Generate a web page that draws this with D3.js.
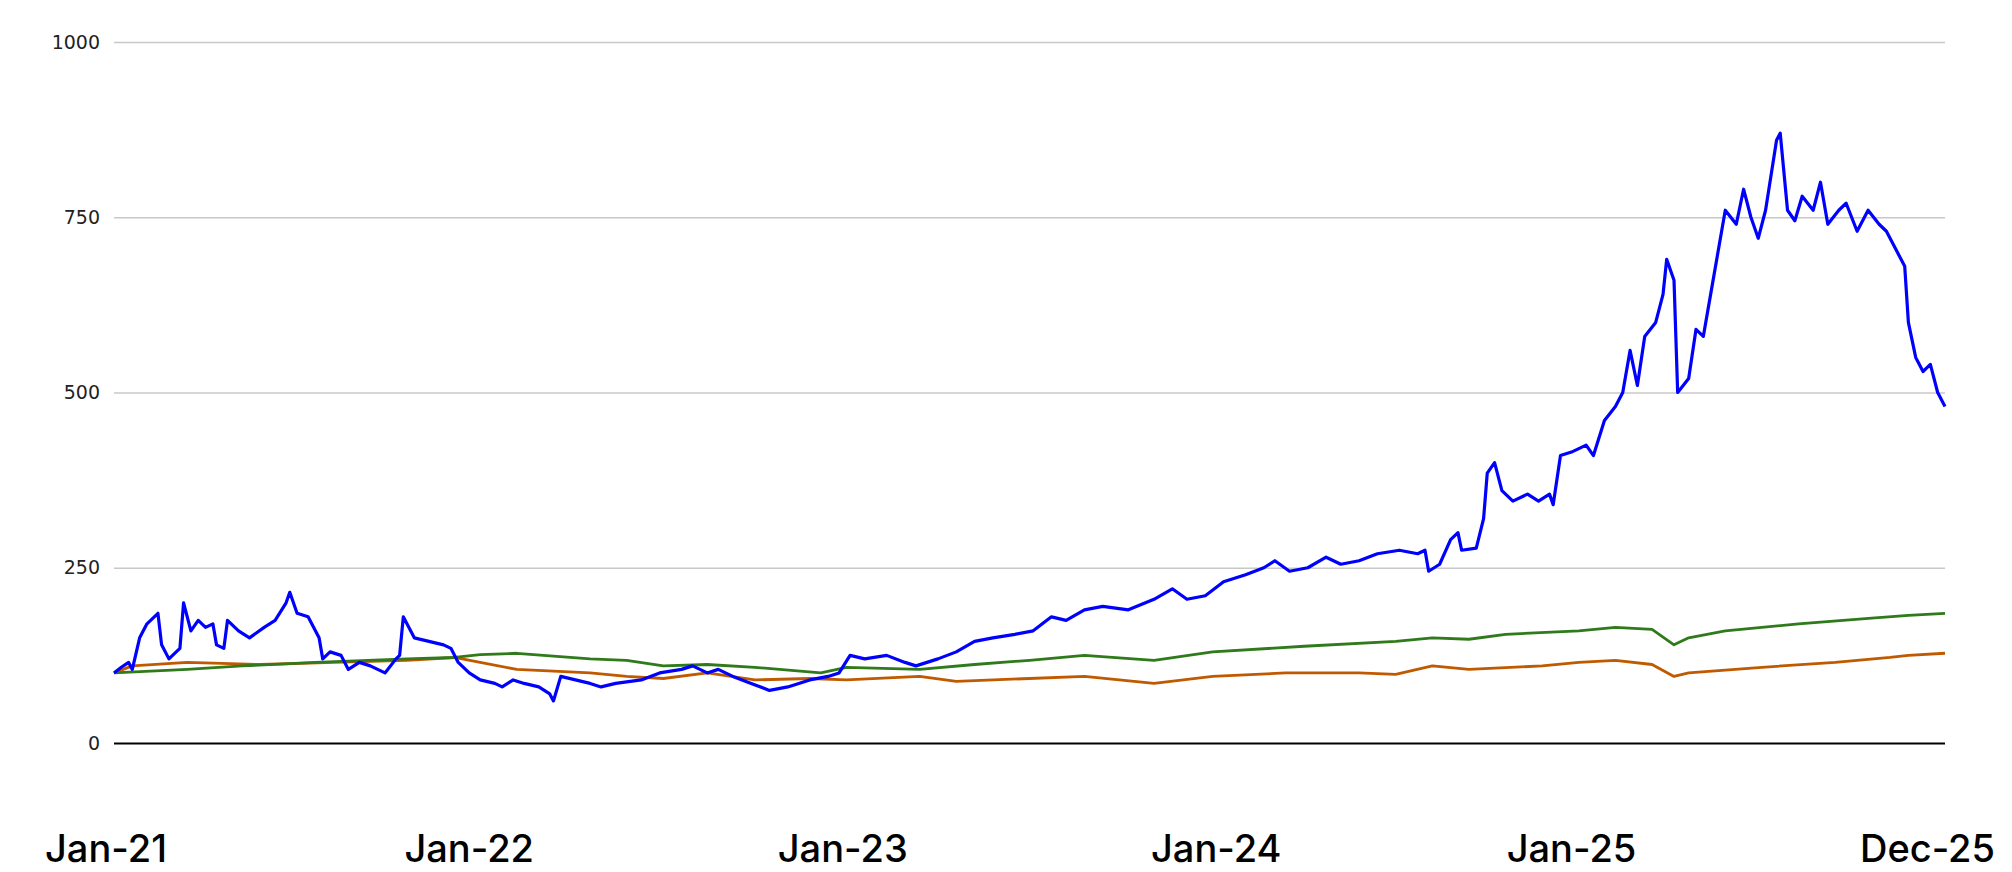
<!DOCTYPE html>
<html><head><meta charset="utf-8">
<script src="https://cdn.jsdelivr.net/npm/d3@7"></script>
<style>body{margin:0;background:#fff}</style></head>
<body><svg id="c" width="2012" height="872"></svg>
<script>
// time in years since Jan 2021
const blueT=[0,.02,.04,.05,.07,.09,.12,.13,.15,.18,.19,.21,.23,.25,.27,.28,.30,.31,.34,.37,.41,.44,.47,.48,.50,.53,.56,.57,.59,.62,.64,.67,.70,.74,.77,.78,.79,.82,.86,.90,.92,.94,.97,1.00,1.04,1.06,1.09,1.12,1.16,1.19,1.20,1.22,1.26,1.30,1.33,1.37,1.44,1.49,1.55,1.58,1.62,1.65,1.69,1.74,1.79,1.84,1.90,1.95,1.98,2.01,2.05,2.11,2.16,2.19,2.25,2.30,2.35,2.40,2.46,2.51,2.56,2.60,2.65,2.70,2.77,2.84,2.89,2.93,2.98,3.03,3.09,3.14,3.17,3.21,3.26,3.31,3.35,3.40,3.45,3.51,3.56,3.58,3.59,3.62,3.65,3.67,3.68,3.72,3.74,3.75,3.77,3.79,3.82,3.86,3.89,3.92,3.93,3.95,3.98,4.02,4.04,4.07,4.10,4.12,4.14,4.16,4.18,4.21,4.23,4.24,4.26,4.27,4.30,4.32,4.34,4.36,4.38,4.40,4.43,4.45,4.47,4.49,4.51,4.54,4.55,4.57,4.59,4.61,4.64,4.66,4.68,4.71,4.73,4.76,4.79,4.82,4.84,4.87,4.89,4.90,4.92,4.94,4.96,4.98,5.00];
const blueV=[100,108,115,105,150,170,185,140,120,135,200,160,175,165,170,140,135,175,160,150,165,175,200,215,185,180,150,120,130,125,105,115,110,100,120,125,180,150,145,140,135,115,100,90,85,80,90,85,80,70,60,95,90,85,80,85,90,100,105,110,100,105,95,85,75,80,90,95,100,125,120,125,115,110,120,130,145,150,155,160,180,175,190,195,190,205,220,205,210,230,240,250,260,245,250,265,255,260,270,275,270,275,245,255,290,300,275,278,320,385,400,360,345,355,345,355,340,410,415,425,410,460,480,500,560,510,580,600,640,690,660,500,520,590,580,640,700,760,740,790,750,720,760,860,870,760,745,780,760,800,740,760,770,730,760,740,730,700,680,600,550,530,540,500,480];
const greenT=[0,.2,.35,.55,.8,.93,1.0,1.1,1.3,1.4,1.5,1.62,1.75,1.93,2.0,2.2,2.35,2.5,2.65,2.84,3.0,3.25,3.5,3.6,3.7,3.8,4.0,4.1,4.2,4.26,4.3,4.4,4.6,4.8,4.9,5.0];
const greenV=[100,105,110,115,120,122,126,128,120,118,110,112,108,100,108,105,112,118,125,118,130,138,145,150,148,155,160,165,162,140,150,160,170,178,182,185];
const orangeT=[0,.05,.2,.4,.6,.8,.93,1.0,1.1,1.3,1.4,1.5,1.62,1.75,1.9,2.0,2.2,2.3,2.5,2.65,2.84,3.0,3.2,3.4,3.5,3.6,3.7,3.9,4.0,4.1,4.2,4.26,4.3,4.5,4.7,4.85,4.9,5.0];
const orangeV=[100,110,115,112,115,118,122,115,105,100,95,92,100,90,92,90,95,88,92,95,85,95,100,100,98,110,105,110,115,118,112,95,100,108,115,122,125,128];
const yTicks=[0,250,500,750,1000];
const xLabels=["Jan-21","Jan-22","Jan-23","Jan-24","Jan-25","Dec-25"];
const xLabelT=[0,0.97,1.99,3.01,3.98,4.92];

const svg=d3.select("#c");
const x=d3.scaleLinear().domain([0,5]).range([114,1945]);
const y=d3.scaleLinear().domain([0,1000]).range([743,42]);
const g=svg.append("g").attr("transform","translate(114,0)");
g.call(d3.axisLeft(y).tickValues(yTicks).tickFormat(d3.format("d")).tickSize(-1831).tickPadding(14))
 .call(a=>a.select(".domain").remove())
 .call(a=>a.selectAll(".tick line").attr("stroke",d=>d===0?"#000":"#c8c8c8").attr("stroke-width",d=>d===0?2:1.5))
 .call(a=>a.selectAll(".tick text").attr("font-family","DejaVu Sans").attr("font-size",19).attr("fill","#222"));
const line=d3.line().x(d=>x(d[0])).y(d=>y(d[1]));
const series=[[orangeT,orangeV,"#c05a00"],[greenT,greenV,"#2f7a1a"],[blueT,blueV,"#0000ff"]];
series.forEach(([t,v,c])=>{
  svg.append("path").datum(t.map((tt,i)=>[tt,v[i]])).attr("d",line)
    .attr("fill","none").attr("stroke",c).attr("stroke-width",c==="#0000ff"?3.2:2.8).attr("stroke-linejoin","round");
});
svg.append("g").selectAll("text").data(xLabels).join("text")
  .attr("x",(d,i)=>i===0?45:(i===5?1995:x(xLabelT[i])))
  .attr("text-anchor",(d,i)=>i===0?"start":(i===5?"end":"middle"))
  .attr("y",862).attr("font-family","Inter").attr("font-weight",500).attr("font-size",38).attr("fill","#000")
  .text(d=>d);
</script></body></html>
